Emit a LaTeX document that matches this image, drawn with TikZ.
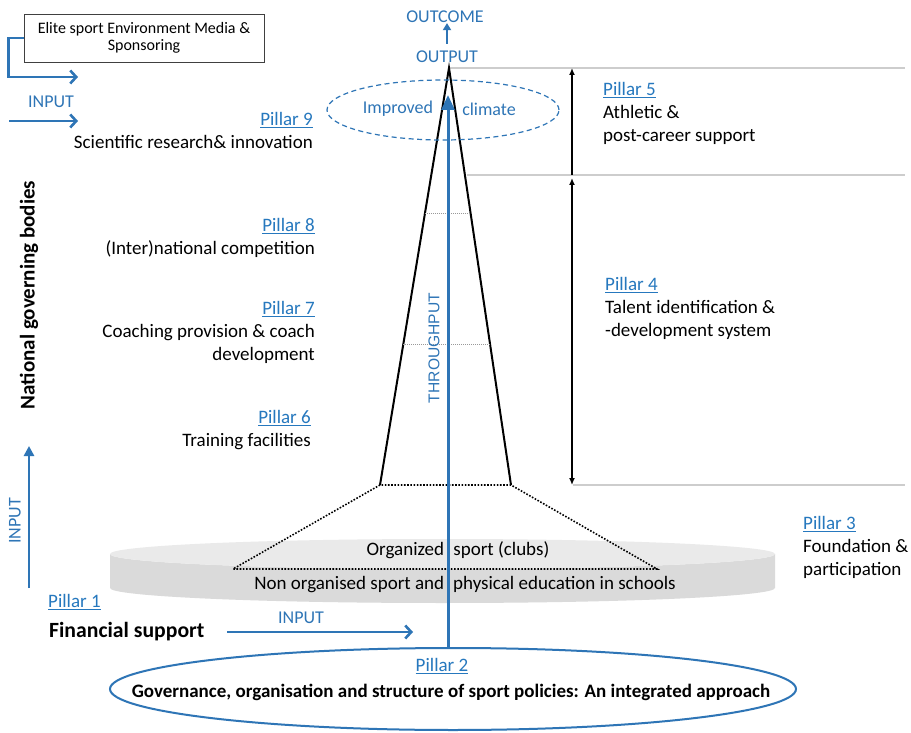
\documentclass[tikz,border=0pt]{standalone}
\usepackage{fontspec}
\setmainfont{Carlito}
\newfontfamily\arialfont{Liberation Sans}
\usetikzlibrary{arrows.meta,calc,shapes.geometric}
\definecolor{myblue}{RGB}{46,117,182}
\definecolor{linkblue}{RGB}{38,120,190}
\definecolor{disktop}{RGB}{234,234,234}
\definecolor{diskside}{RGB}{218,218,218}
\definecolor{guide}{RGB}{205,205,205}
\newcommand\pul[1]{\setbox0\hbox{#1}\rlap{\rule[-3pt]{\wd0}{1pt}}\box0}
\newcommand\pil[1]{\textcolor{linkblue}{\pul{#1}}}
\begin{document}
\begin{tikzpicture}[x=1pt,y=-1pt,
  txt/.style={font=\fontsize{19}{23}\selectfont, inner sep=0pt, text=black},
  bluetxt/.style={font=\fontsize{18}{22}\selectfont, inner sep=0pt, text=myblue},
  barrow/.style={draw=myblue, line width=2.6pt, -{Straight Barb[length=6pt,width=13pt,line width=2.6pt]}},
  karrow/.style={draw=black, line width=1.5pt, -{Latex[length=7pt,width=6pt]}},
  guideline/.style={draw=guide, line width=1.1pt},
  dotline/.style={draw=black, line width=1.6pt, dash pattern=on 1.6pt off 1.6pt},
  innerline/.style={draw=gray!80, line width=0.8pt, dash pattern=on 1pt off 1pt},
  pyr/.style={draw=black, line width=2pt, line join=miter}
]
\useasboundingbox (0,0) rectangle (911,733);
\fill[white] (0,0) rectangle (911,733);

% ---------- disk (foundation)
\fill[diskside] (110,554) -- (110,588) arc[start angle=180,end angle=0,x radius=332.5,y radius=15] -- (775,554) arc[start angle=0,end angle=180,x radius=332.5,y radius=15] -- cycle;
\fill[disktop] (442.5,554) ellipse [x radius=332.5, y radius=15];

% ---------- key points
\coordinate (apex) at (449,68);
\coordinate (bl) at (380,485);
\coordinate (br) at (511,485);
\coordinate (dl) at (233,569);
\coordinate (dr) at (657,569);

% ---------- guide lines right
\draw[guideline] (apex) -- (905,68);
\draw[guideline] (467,175) -- (905,175);
\draw[guideline] (573,485) -- (905,485);

% ---------- pyramid
\draw[dotline] (bl) -- (dl) -- (dr) -- (br) -- cycle;
\draw[pyr] (bl) -- (apex) -- (br);
\draw[innerline] ($(apex)!0.348!(bl)$) -- ($(apex)!0.348!(br)$);
\draw[innerline] ($(apex)!0.662!(bl)$) -- ($(apex)!0.662!(br)$);

% ---------- improved climate
\node[draw=myblue, line width=1.2pt, dash pattern=on 5pt off 3.5pt, ellipse, minimum width=232pt, minimum height=60pt] (climate) at (443,110) {};
\node[bluetxt] (improved) at (398,109) {Improved};
\node[bluetxt] (climatetxt) at (489,109) {climate};

% ---------- disk texts
\node[txt] (organized) at (458,550) {Organized\hspace{5pt} sport (clubs)};
\node[txt] (nonorg) at (465,585) {Non organised sport and\hspace{9pt}physical education in schools};

% ---------- bottom ellipse (Pillar 2)
\node[draw=myblue, line width=2pt, ellipse, minimum width=686pt, minimum height=82pt, inner sep=0pt] (gov) at (453,689) {};
\node[txt] (p2) at (442,666) {\pil{Pillar 2}};
\node[txt, font=\bfseries\fontsize{19}{22}\selectfont] (govtxt) at (451,692) {Governance, organisation and structure of sport policies: An integrated approach};

% ---------- throughput
\coordinate (ttip) at (448,95);
\draw[draw=myblue, line width=3pt, -{Triangle[length=15pt,width=13pt]}] (ttip |- gov.north) -- (ttip);
\node[font=\arialfont\fontsize{15.6}{18}\selectfont, text=myblue, rotate=90, inner sep=0pt] (through) at (434,348) {THROUGHPUT};

% ---------- output / outcome
\node[bluetxt] (output) at (447,57) {OUTPUT};
\node[bluetxt] (outcome) at (445,17) {OUTCOME};
\coordinate (oc1) at (447,44);
\draw[draw=myblue, line width=2.6pt, -{Triangle[length=7pt,width=8pt]}] (oc1) -- (oc1 |- outcome.south);

% ---------- right arrows
\draw[karrow] (572,175) -- (572,68);
\draw[draw=black, line width=1.5pt, {Latex[length=7pt,width=6pt]}-{Latex[length=7pt,width=6pt]}] (572,178) -- (572,485);

% ---------- right pillars
\node[txt, anchor=north west, align=left] (p5) at (603,82) {\pil{Pillar 5}\\Athletic \&\\post-career support};
\node[txt, anchor=north west, align=left] (p4) at (605,277) {\pil{Pillar 4}\\Talent identification \&\\-development system};
\node[txt, anchor=north west, align=left] (p3) at (803,516) {\pil{Pillar 3}\\Foundation \&\\participation};

% ---------- left pillars
\node[txt, anchor=north east, align=right] (p9) at (313,112) {\pil{Pillar 9}\\Scientific research\& innovation};
\node[txt, anchor=north east, align=right] (p8) at (315,218) {\pil{Pillar 8}\\(Inter)national competition};
\node[txt, anchor=north east, align=right] (p7) at (315,301) {\pil{Pillar 7}\\Coaching provision \& coach\\development};
\node[txt, anchor=north east, align=right] (p6) at (311,410) {\pil{Pillar 6}\\Training facilities};

% ---------- top-left box and inputs
\node[draw=black!75, line width=0.9pt, minimum width=240pt, minimum height=48pt, inner sep=0pt, align=center, font=\fontsize{16}{17.5}\selectfont] (elite) at (144,38) {Elite sport Environment Media \&\\Sponsoring};
\coordinate (eliteend) at (78,77);
\draw[barrow] (elite.west) -- ++(-15,0) |- (eliteend);
\node[bluetxt] (input1) at (51,102) {INPUT};
\coordinate (in1s) at (9,121);
\coordinate (in1e) at (78,121);
\draw[barrow] (in1s) -- (in1e);

% ---------- left side
\node[txt, font=\bfseries\fontsize{21}{24}\selectfont, rotate=90] (ngb) at (29,295) {National governing bodies};
\coordinate (in2s) at (29,588);
\coordinate (in2e) at (29,446);
\draw[draw=myblue, line width=2.6pt, -{Triangle[length=10pt,width=10pt]}] (in2s) -- (in2e);
\node[bluetxt, rotate=90] (input2) at (15,521) {INPUT};

\node[txt, anchor=west] (p1) at (48,602) {\pil{Pillar 1}};
\node[txt, anchor=west, font=\bfseries\fontsize{21.7}{24}\selectfont] (fin) at (49,632) {Financial support};
\coordinate (in3s) at (227,632);
\coordinate (in3e) at (413,632);
\draw[barrow] (in3s) -- (in3e);
\node[bluetxt] (input3) at (301,618) {INPUT};
\end{tikzpicture}
\end{document}
